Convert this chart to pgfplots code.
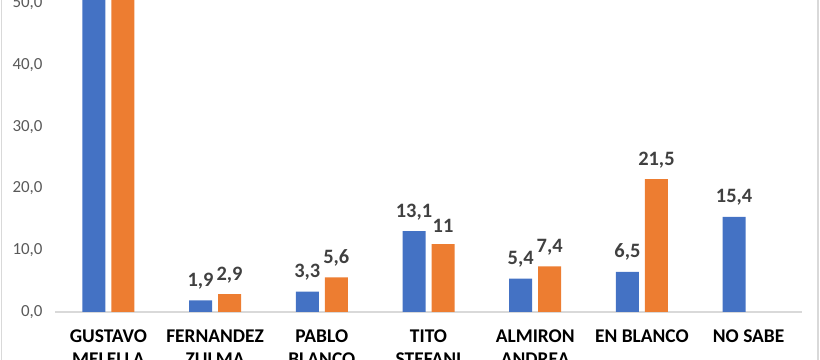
\documentclass[border=0pt]{standalone}
\usepackage{pgfplots}
\pgfplotsset{compat=1.18}
\usepackage{pgfplotstable}
\usepackage{fontspec}
\setmainfont{Carlito}
\definecolor{cblue}{HTML}{4472C4}
\definecolor{corange}{HTML}{ED7D31}
\definecolor{tickgray}{HTML}{595959}
\definecolor{labgray}{HTML}{404040}
\definecolor{linegray}{HTML}{D9D9D9}
\pgfplotstableread{
x y lab
0 56.0 56,0
1 1.9 1,9
2 3.3 3,3
3 13.1 13,1
4 5.4 5,4
5 6.5 6,5
6 15.4 15,4
}\seriesA
\pgfplotstableread{
x y lab
0 58.0 58,0
1 2.9 2,9
2 5.6 5,6
3 11 11
4 7.4 7,4
5 21.5 21,5
}\seriesB
\begin{document}
\begin{tikzpicture}
\begin{axis}[
  at={(55bp,48bp)}, anchor=south west,
  scale only axis, width=747bp, height=312bp,
  xmin=-0.5, xmax=6.5, ymin=0, ymax=50.5,
  axis x line*=bottom, axis y line*=left,
  y axis line style={draw=none},
  x axis line style={draw=linegray, line width=1.2bp},
  major tick length=0pt,
  xtick={0,...,6},
  xticklabels={{GUSTAVO\\MELELLA},{FERNANDEZ\\ZULMA},{PABLO\\BLANCO},{TITO\\STEFANI},{ALMIRON\\ANDREA},{EN BLANCO},{NO SABE}},
  xticklabel style={align=center, font={\fontsize{19.5}{23}\selectfont\bfseries}, text=black, yshift=-14bp},
  ytick={0,10,...,50},
  yticklabel style={font={\fontsize{17}{20}\selectfont}, text=tickgray, xshift=-9bp},
  /pgf/number format/.cd, fixed, fixed zerofill, precision=1, use comma, assume math mode=true,
  /pgfplots/.cd,
  every node near coord/.append style={font={\fontsize{20.5}{24}\selectfont\bfseries}, text=labgray, anchor=south, inner sep=0pt, yshift=11bp},
]
\addplot[ybar, fill=cblue, draw=none, bar width=23bp, bar shift=-14.5bp, nodes near coords, point meta=explicit symbolic,
  every node near coord/.append style={xshift=-14.5bp}] table[x=x, y=y, meta=lab] {\seriesA};
\addplot[ybar, fill=corange, draw=none, bar width=23bp, bar shift=14.5bp, nodes near coords, point meta=explicit symbolic,
  every node near coord/.append style={xshift=14.5bp}] table[x=x, y=y, meta=lab] {\seriesB};
\end{axis}
\pgfresetboundingbox
\path[use as bounding box] (0,0) rectangle (820bp,360bp);
\draw[linegray, line width=1.5bp] (1.5bp,0) -- (1.5bp,360bp);
\draw[linegray, line width=1.5bp] (818bp,0) -- (818bp,360bp);
\end{tikzpicture}
\end{document}
